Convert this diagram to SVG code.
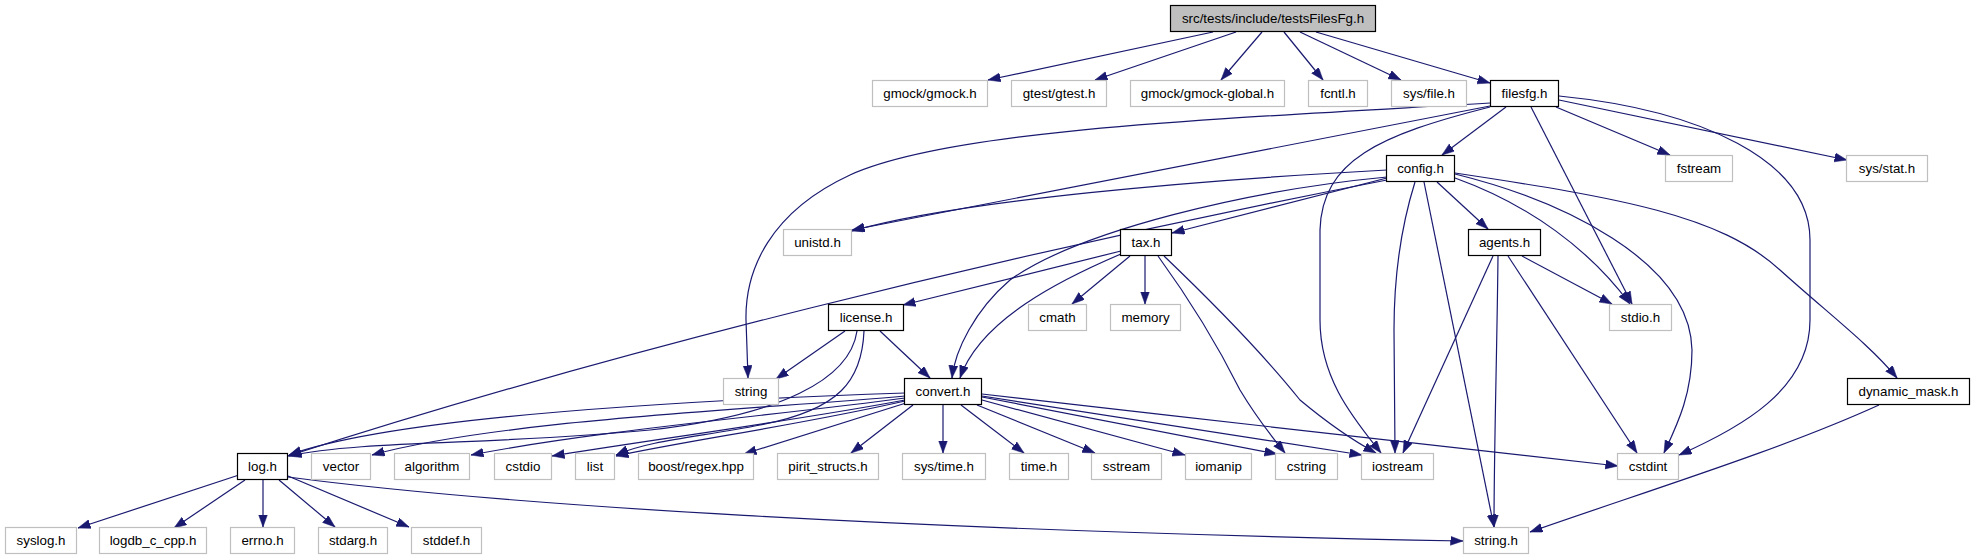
<svg xmlns="http://www.w3.org/2000/svg" width="1975" height="560" viewBox="0 0 1975 560">
<style>
.ext rect{fill:#ffffff;stroke:#bfbfbf;stroke-width:1.2}
.doc rect{fill:#ffffff;stroke:#000000;stroke-width:1.2}
.root rect{fill:#bfbfbf;stroke:#000000;stroke-width:1.2}
text{font-family:"Liberation Sans",Arial,sans-serif;font-size:13.33px;fill:#000000;text-anchor:middle}
#edges path{fill:none;stroke:#191970;stroke-width:1.2;marker-end:url(#arr)}
</style>
<defs>
<marker id="arr" markerWidth="14" markerHeight="10" refX="12.5" refY="4.5" orient="auto" markerUnits="userSpaceOnUse">
<path d="M0,0 L12.5,4.5 L0,9 z" fill="#191970" stroke="#191970" stroke-width="0.5"/>
</marker>
</defs>
<rect x="0" y="0" width="1975" height="560" fill="#ffffff"/>
<g id="edges">
<path d="M1213,32 L988,80"/>
<path d="M1236,32 L1095,80"/>
<path d="M1262,32 L1221,80"/>
<path d="M1284,32 L1323,80"/>
<path d="M1300,32 L1401,80"/>
<path d="M1316,32 L1490,83"/>
<path d="M1490,103 C1200,120 950,130 850,175 C770,212 745,270 746,320 L748,378"/>
<path d="M1490,106 L852,230"/>
<path d="M1506,107 L1442,155"/>
<path d="M1490,107 C1380,135 1322,160 1320,230 L1320,320 C1320,380 1355,420 1381,453"/>
<path d="M1531,107 L1632,304"/>
<path d="M1556,107 L1670,155"/>
<path d="M1559,100 L1847,160"/>
<path d="M1559,96 C1700,110 1810,160 1810,240 L1810,320 C1810,390 1740,428 1679,455"/>
<path d="M1387,170 C1200,180 960,200 852,231"/>
<path d="M1387,180 C1000,255 600,355 288,456"/>
<path d="M1387,177 C1250,190 1080,230 1010,280 C975,310 955,350 952,378"/>
<path d="M1387,178 L1172,233"/>
<path d="M1437,182 L1488,229"/>
<path d="M1455,178 C1530,205 1590,250 1630,304"/>
<path d="M1415,182 C1400,230 1394,280 1394,330 L1395,453"/>
<path d="M1424,182 L1494,527"/>
<path d="M1455,174 C1560,200 1690,260 1692,350 C1692,395 1677,425 1664,453"/>
<path d="M1455,173 C1620,198 1720,215 1780,270 C1830,315 1870,345 1897,378"/>
<path d="M1121,251 L903,305"/>
<path d="M1121,254 C1060,280 980,320 960,378"/>
<path d="M1130,256 L1072,304"/>
<path d="M1145,256 L1145,304"/>
<path d="M1158,256 C1190,300 1215,340 1240,390 C1258,420 1272,437 1285,453"/>
<path d="M1164,256 C1210,300 1260,350 1300,400 C1330,425 1352,440 1376,453"/>
<path d="M1522,256 L1612,304"/>
<path d="M1493,256 L1403,453"/>
<path d="M1498,256 C1497,350 1494,450 1494,527"/>
<path d="M1508,256 L1637,453"/>
<path d="M845,331 L776,379"/>
<path d="M880,331 L930,378"/>
<path d="M857,331 C850,380 780,415 650,430 C500,445 360,440 289,456"/>
<path d="M864,331 C862,380 840,410 760,425 C700,437 650,440 616,455"/>
<path d="M905,393 C700,400 400,415 289,455"/>
<path d="M905,396 C750,410 500,420 372,455"/>
<path d="M905,398 C780,415 600,430 471,455"/>
<path d="M905,400 C800,420 650,440 552,456"/>
<path d="M905,401 C800,425 690,440 616,456"/>
<path d="M906,403 L744,454"/>
<path d="M913,405 L851,453"/>
<path d="M943,405 L943,453"/>
<path d="M961,405 L1024,453"/>
<path d="M977,405 L1095,453"/>
<path d="M982,400 L1185,455"/>
<path d="M982,397 L1277,454"/>
<path d="M982,396 L1362,455"/>
<path d="M982,394 C1200,420 1450,445 1618,466"/>
<path d="M239,475 L78,528"/>
<path d="M245,480 L174,528"/>
<path d="M263,480 L263,527"/>
<path d="M279,480 L335,527"/>
<path d="M288,476 L409,527"/>
<path d="M288,477 C500,505 900,530 1463,541"/>
<path d="M1879,405 C1780,450 1650,490 1530,532"/>
</g>
<g id="n_title" class="root"><rect x="1170.5" y="5.5" width="205" height="26"/><text x="1273" y="23">src/tests/include/testsFilesFg.h</text></g>
<g id="n_gmock" class="ext"><rect x="872.5" y="80.5" width="115" height="26"/><text x="930" y="98">gmock/gmock.h</text></g>
<g id="n_gtest" class="ext"><rect x="1011.5" y="80.5" width="95" height="26"/><text x="1059" y="98">gtest/gtest.h</text></g>
<g id="n_gmockglobal" class="ext"><rect x="1130.5" y="80.5" width="154" height="26"/><text x="1207.5" y="98">gmock/gmock-global.h</text></g>
<g id="n_fcntl" class="ext"><rect x="1308.5" y="80.5" width="59" height="26"/><text x="1338" y="98">fcntl.h</text></g>
<g id="n_sysfile" class="ext"><rect x="1391.5" y="80.5" width="75" height="26"/><text x="1429" y="98">sys/file.h</text></g>
<g id="n_filesfg" class="doc"><rect x="1490.5" y="80.5" width="68" height="26"/><text x="1524.5" y="98">filesfg.h</text></g>
<g id="n_config" class="doc"><rect x="1386.5" y="155.5" width="68" height="26"/><text x="1420.5" y="173">config.h</text></g>
<g id="n_fstream" class="ext"><rect x="1665.5" y="155.5" width="67" height="26"/><text x="1699" y="173">fstream</text></g>
<g id="n_sysstat" class="ext"><rect x="1846.5" y="155.5" width="81" height="26"/><text x="1887" y="173">sys/stat.h</text></g>
<g id="n_unistd" class="ext"><rect x="783.5" y="229.5" width="68" height="26"/><text x="817.5" y="247">unistd.h</text></g>
<g id="n_tax" class="doc"><rect x="1120.5" y="229.5" width="51" height="26"/><text x="1146" y="247">tax.h</text></g>
<g id="n_agents" class="doc"><rect x="1468.5" y="229.5" width="72" height="26"/><text x="1504.5" y="247">agents.h</text></g>
<g id="n_license" class="doc"><rect x="828.5" y="304.5" width="75" height="26"/><text x="866" y="322">license.h</text></g>
<g id="n_cmath" class="ext"><rect x="1028.5" y="304.5" width="58" height="26"/><text x="1057.5" y="322">cmath</text></g>
<g id="n_memory" class="ext"><rect x="1110.5" y="304.5" width="70" height="26"/><text x="1145.5" y="322">memory</text></g>
<g id="n_stdio" class="ext"><rect x="1609.5" y="304.5" width="62" height="26"/><text x="1640.5" y="322">stdio.h</text></g>
<g id="n_string" class="ext"><rect x="723.5" y="378.5" width="55" height="26"/><text x="751" y="396">string</text></g>
<g id="n_convert" class="doc"><rect x="904.5" y="378.5" width="77" height="26"/><text x="943" y="396">convert.h</text></g>
<g id="n_dynmask" class="doc"><rect x="1847.5" y="378.5" width="122" height="26"/><text x="1908.5" y="396">dynamic_mask.h</text></g>
<g id="n_log" class="doc"><rect x="237.5" y="453.5" width="50" height="26"/><text x="262.5" y="471">log.h</text></g>
<g id="n_vector" class="ext"><rect x="311.5" y="453.5" width="59" height="26"/><text x="341" y="471">vector</text></g>
<g id="n_algorithm" class="ext"><rect x="394.5" y="453.5" width="75" height="26"/><text x="432" y="471">algorithm</text></g>
<g id="n_cstdio" class="ext"><rect x="494.5" y="453.5" width="57" height="26"/><text x="523" y="471">cstdio</text></g>
<g id="n_list" class="ext"><rect x="575.5" y="453.5" width="39" height="26"/><text x="595" y="471">list</text></g>
<g id="n_boost" class="ext"><rect x="638.5" y="453.5" width="115" height="26"/><text x="696" y="471">boost/regex.hpp</text></g>
<g id="n_pirit" class="ext"><rect x="777.5" y="453.5" width="101" height="26"/><text x="828" y="471">pirit_structs.h</text></g>
<g id="n_systime" class="ext"><rect x="902.5" y="453.5" width="83" height="26"/><text x="944" y="471">sys/time.h</text></g>
<g id="n_time" class="ext"><rect x="1009.5" y="453.5" width="59" height="26"/><text x="1039" y="471">time.h</text></g>
<g id="n_sstream" class="ext"><rect x="1091.5" y="453.5" width="70" height="26"/><text x="1126.5" y="471">sstream</text></g>
<g id="n_iomanip" class="ext"><rect x="1185.5" y="453.5" width="66" height="26"/><text x="1218.5" y="471">iomanip</text></g>
<g id="n_cstring" class="ext"><rect x="1275.5" y="453.5" width="62" height="26"/><text x="1306.5" y="471">cstring</text></g>
<g id="n_iostream" class="ext"><rect x="1361.5" y="453.5" width="72" height="26"/><text x="1397.5" y="471">iostream</text></g>
<g id="n_cstdint" class="ext"><rect x="1617.5" y="453.5" width="61" height="26"/><text x="1648" y="471">cstdint</text></g>
<g id="n_syslog" class="ext"><rect x="5.5" y="527.5" width="71" height="26"/><text x="41" y="545">syslog.h</text></g>
<g id="n_logdb" class="ext"><rect x="99.5" y="527.5" width="107" height="26"/><text x="153" y="545">logdb_c_cpp.h</text></g>
<g id="n_errno" class="ext"><rect x="230.5" y="527.5" width="64" height="26"/><text x="262.5" y="545">errno.h</text></g>
<g id="n_stdarg" class="ext"><rect x="318.5" y="527.5" width="69" height="26"/><text x="353" y="545">stdarg.h</text></g>
<g id="n_stddef" class="ext"><rect x="411.5" y="527.5" width="70" height="26"/><text x="446.5" y="545">stddef.h</text></g>
<g id="n_stringh" class="ext"><rect x="1463.5" y="527.5" width="65" height="26"/><text x="1496" y="545">string.h</text></g>
</svg>
